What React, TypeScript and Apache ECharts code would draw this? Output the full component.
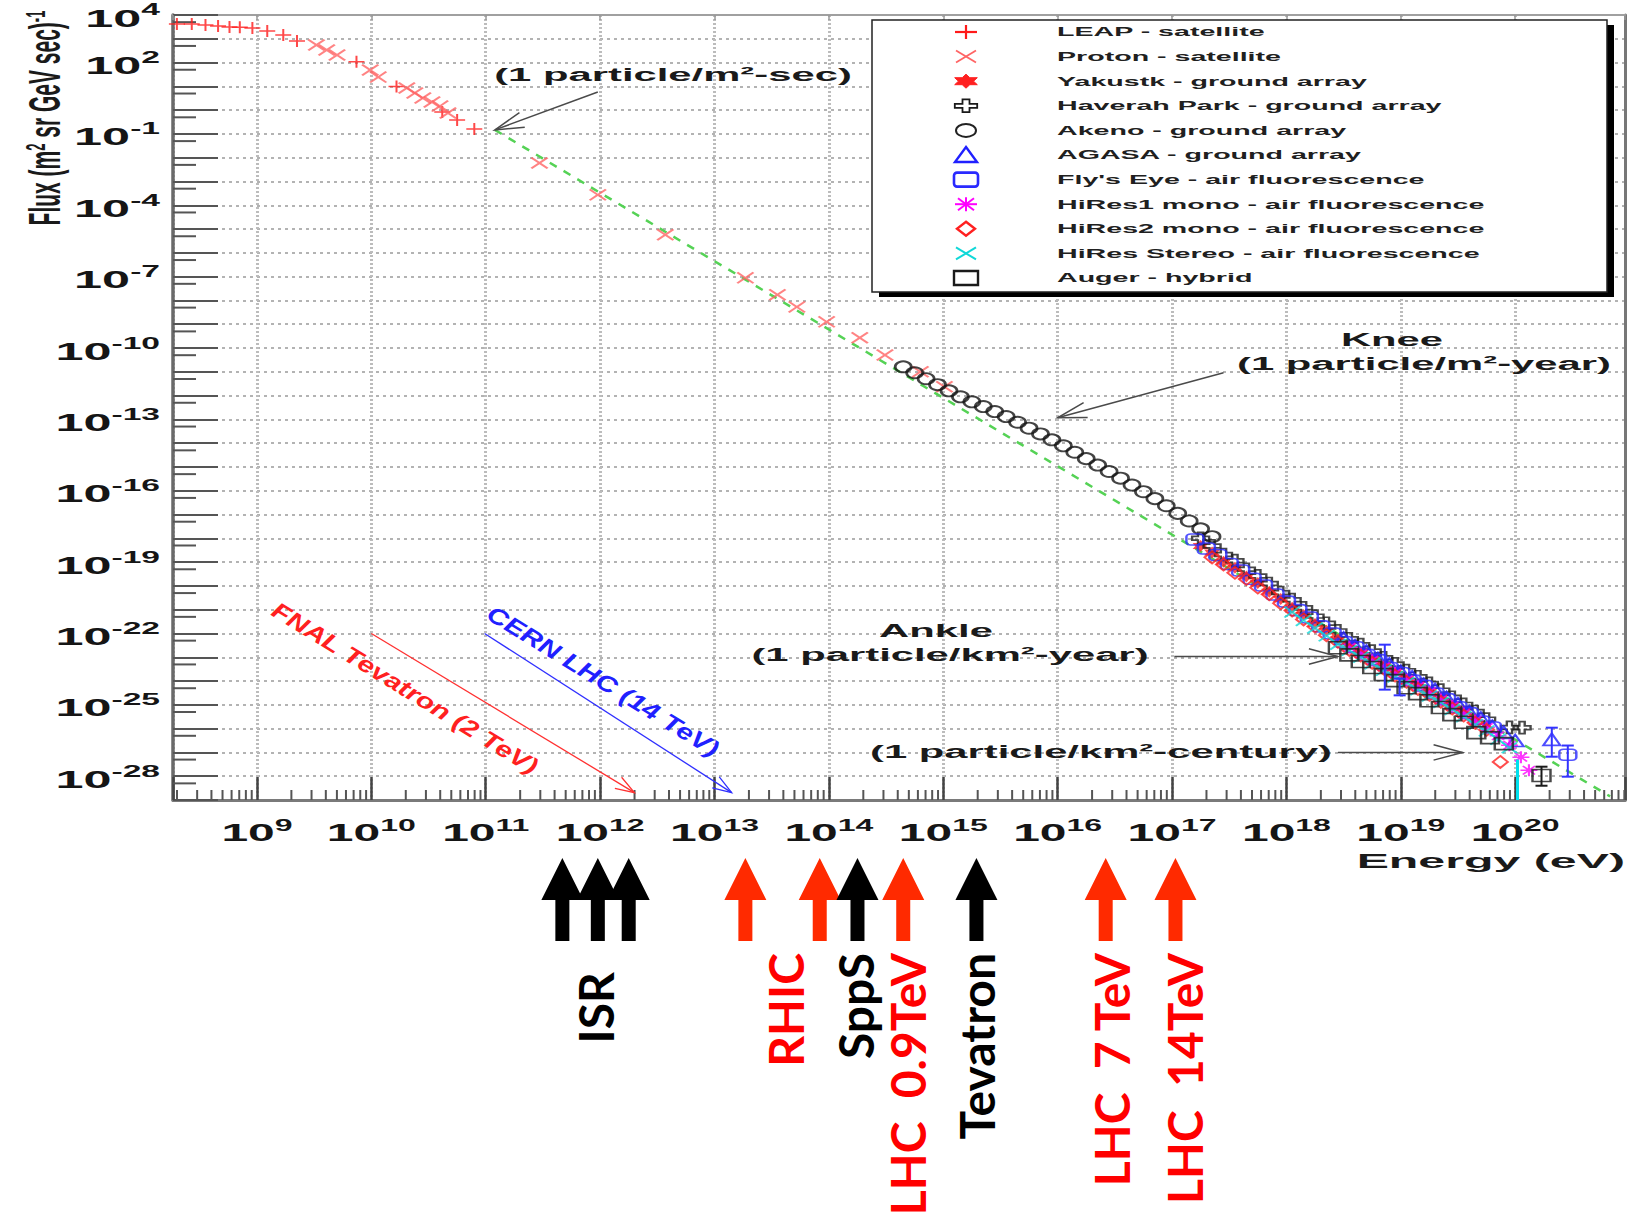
import React, { useEffect, useRef } from 'react';
import * as echarts from 'echarts';

// ---------------- DATA (log10 of energy in eV , log10 of flux) ----------------
const leapSatellite: number[][] = [
  [8.30, 3.62], [8.43, 3.62], [8.55, 3.58], [8.66, 3.54], [8.76, 3.50], [8.85, 3.49], [8.96, 3.45],
  [9.09, 3.33], [9.23, 3.16], [9.35, 2.91], [9.87, 2.03], [10.22, 0.99], [10.62, -0.08], [10.75, -0.41], [10.90, -0.79],
];
const protonSatellite: number[][] = [
  [9.52, 2.74], [9.61, 2.53], [9.70, 2.32], [9.99, 1.69], [10.06, 1.39], [10.31, 0.93], [10.38, 0.72],
  [10.45, 0.51], [10.53, 0.34], [10.60, 0.17], [10.67, -0.12], [11.47, -2.22], [11.98, -3.56], [12.57, -5.24],
  [13.27, -7.05], [13.55, -7.76], [13.72, -8.27], [13.98, -8.90], [14.27, -9.57], [14.49, -10.29], [14.80, -11.0], [15.01, -11.63],
];
const yakutsk: number[][] = [
  [17.25, -18.32], [17.35, -18.60], [17.45, -18.98], [17.55, -19.24], [17.65, -19.60], [17.75, -19.88], [17.85, -20.25],
  [17.95, -20.55], [18.05, -20.92], [18.15, -21.22], [18.25, -21.60], [18.35, -21.88], [18.45, -22.25], [18.55, -22.50],
  [18.65, -22.82], [18.75, -23.05], [18.85, -23.36], [18.95, -23.60], [19.05, -23.90], [19.15, -24.13], [19.25, -24.45],
  [19.35, -24.68], [19.45, -25.00], [19.55, -25.25], [19.65, -25.62],
];
const haverahPark: number[][] = [
  [17.25, -18.00], [17.35, -18.32], [17.45, -18.68], [17.55, -18.94], [17.65, -19.30], [17.75, -19.58], [17.85, -19.90],
  [17.95, -20.28], [18.05, -20.58], [18.15, -20.92], [18.25, -21.27], [18.35, -21.57], [18.45, -21.89], [18.55, -22.22],
  [18.65, -22.47], [18.75, -22.74], [18.85, -23.02], [18.95, -23.28], [19.05, -23.56], [19.15, -23.82], [19.25, -24.10],
  [19.35, -24.38], [19.45, -24.68], [19.55, -24.98], [19.65, -25.28], [19.75, -25.60], [19.95, -25.95], [20.06, -25.96],
];
const akeno: number[][] = [
  [14.65, -10.79], [14.75, -11.04], [14.85, -11.29], [14.95, -11.54], [15.05, -11.80], [15.15, -12.05], [15.25, -12.26],
  [15.35, -12.46], [15.45, -12.67], [15.55, -12.88], [15.65, -13.12], [15.75, -13.37], [15.85, -13.61], [15.95, -13.86],
  [16.05, -14.11], [16.15, -14.38], [16.25, -14.65], [16.35, -14.92], [16.45, -15.19], [16.55, -15.47], [16.65, -15.76],
  [16.75, -16.04], [16.85, -16.33], [16.95, -16.63], [17.05, -16.95], [17.15, -17.27], [17.25, -17.60], [17.35, -17.93],
];
const agasa: number[][] = [
  [18.5, -22.20], [18.6, -22.52], [18.7, -22.74], [18.8, -23.06], [18.9, -23.29], [19.0, -23.60], [19.1, -23.82],
  [19.2, -24.14], [19.3, -24.36], [19.4, -24.70], [19.5, -24.96], [19.6, -25.30], [19.7, -25.56], [19.8, -25.90],
  [19.9, -26.16], [20.0, -26.50], [20.32, -26.45],
];
const flysEye: number[][] = [
  [17.2, -18.05], [17.3, -18.43], [17.4, -18.70], [17.5, -19.08], [17.6, -19.35], [17.7, -19.70], [17.8, -19.98],
  [17.9, -20.36], [18.0, -20.66], [18.1, -21.02], [18.2, -21.33], [18.3, -21.70], [18.4, -22.00], [18.5, -22.36],
  [18.6, -22.58], [18.7, -22.90], [18.8, -23.12], [18.9, -23.45], [19.0, -23.66], [19.1, -23.98], [19.2, -24.20],
  [19.3, -24.52], [19.4, -24.76], [19.5, -25.10], [19.6, -25.35], [19.7, -25.70], [19.8, -25.95], [20.46, -27.10],
];
const hiRes1Mono: number[][] = [
  [18.55, -22.58], [18.65, -22.85], [18.75, -23.12], [18.85, -23.40], [18.95, -23.66], [19.05, -23.95], [19.15, -24.22],
  [19.25, -24.45], [19.35, -24.78], [19.45, -25.05], [19.55, -25.36], [19.65, -25.66], [19.75, -25.95], [19.85, -26.30],
  [19.95, -26.70], [20.05, -27.20], [20.12, -27.75],
];
const hiRes2Mono: number[][] = [
  [17.35, -18.80], [17.45, -19.10], [17.55, -19.45], [17.65, -19.71], [17.75, -20.07], [17.85, -20.35], [17.95, -20.73],
  [18.05, -21.03], [18.15, -21.41], [18.25, -21.71], [18.35, -22.07], [18.45, -22.35], [18.55, -22.69], [18.65, -22.93],
  [18.75, -23.23], [18.85, -23.47], [18.95, -23.77], [19.05, -24.03], [19.15, -24.33], [19.25, -24.57], [19.35, -24.87],
  [19.45, -25.15], [19.55, -25.45], [19.65, -25.75], [19.75, -26.05], [19.87, -27.40],
];
const hiResStereo: number[][] = [
  [18.05, -21.10], [18.15, -21.45], [18.25, -21.77], [18.35, -22.10], [18.45, -22.45], [18.55, -22.71], [18.65, -23.00],
  [18.75, -23.27], [18.85, -23.55], [18.95, -23.83], [19.05, -24.07], [19.15, -24.37], [19.25, -24.63], [19.35, -24.90],
  [19.45, -25.20], [19.55, -25.50], [19.65, -25.83], [19.75, -26.10], [19.85, -26.45], [19.95, -26.80],
];
const auger: number[][] = [
  [18.45, -22.60], [18.55, -22.90], [18.65, -23.18], [18.75, -23.43], [18.85, -23.73], [18.95, -23.98], [19.05, -24.28],
  [19.15, -24.53], [19.25, -24.83], [19.35, -25.11], [19.45, -25.41], [19.55, -25.73], [19.66, -26.17], [19.78, -26.38],
  [19.90, -26.63], [20.23, -27.97],
];
// error bars: [logE, low, high, colour index]
const errorBars: number[][] = [
  [20.32, -27.18, -25.96, 0], [20.46, -28.02, -26.71, 0], [20.23, -28.40, -27.60, 1],
  [18.86, -24.36, -22.47, 0], [18.99, -24.60, -23.90, 0], [20.02, -29.0, -27.30, 2],
];
// E^-2.9 guide line
const powerLaw: number[][] = [[11.08, -0.83], [20.83, -28.85]];
// annotation arrows: [x1, y1, x2(tip), y2(tip), style index]
const annotationArrows: number[][] = [
  [11.98, 0.76, 11.08, -0.83, 0],
  [17.45, -11.04, 16.00, -12.93, 0],
  [17.02, -22.97, 18.45, -22.97, 0],
  [18.45, -27.0, 19.54, -27.0, 0],
  [10.0, -22.0, 12.30, -28.69, 1],
  [10.99, -22.0, 13.15, -28.69, 2],
];
const xTickExponents = [9, 10, 11, 12, 13, 14, 15, 16, 17, 18, 19, 20];
const yTickExponents = [4, 2, -1, -4, -7, -10, -13, -16, -19, -22, -25, -28];

// accelerators (equivalent fixed-target energy, log10 eV)
const accelArrowLogE = [11.67, 11.98, 12.25, 13.27, 13.92, 14.25, 14.65, 15.29, 16.42, 17.03];
const accelArrowRed = [0, 0, 0, 1, 1, 0, 1, 0, 1, 1];
const accelNames = ['ISR', 'RHIC', 'SppS', 'LHC  0.9TeV', 'Tevatron', 'LHC  7 TeV', 'LHC  14TeV'];
const accelLabelLogE = [11.96, 13.62, 14.23, 14.69, 15.29, 16.47, 17.11];
const accelLabelRed = [0, 1, 0, 1, 0, 1, 1];

const seriesNames = [
  'LEAP - satellite', 'Proton - satellite', 'Yakustk - ground array', 'Haverah Park - ground array',
  'Akeno - ground array', 'AGASA - ground array', "Fly's Eye - air fluorescence",
  'HiRes1 mono - air fluorescence', 'HiRes2 mono - air fluorescence', 'HiRes Stereo - air fluorescence', 'Auger - hybrid',
];
const seriesData = [leapSatellite, protonSatellite, yakutsk, haverahPark, akeno, agasa, flysEye, hiRes1Mono, hiRes2Mono, hiResStereo, auger];

// ---------------- STYLE ----------------
const X_MIN = 8.266, X_MAX = 20.96, Y_MIN = -29, Y_MAX = 4;
const SANS = '"Liberation Sans", Arial, Helvetica, sans-serif';
const ST = 2.2;

const PLUS = 'path://M-1,-8L1,-8L1,-1L8,-1L8,1L1,1L1,8L-1,8L-1,1L-8,1L-8,-1L-1,-1Z';
const CROSS = 'path://M-7,-5.6L-5.6,-7L0,-1.4L5.6,-7L7,-5.6L1.4,0L7,5.6L5.6,7L0,1.4L-5.6,7L-7,5.6L-1.4,0Z';
const HEX = 'path://M0,-10L2.9,-5L8.7,-5L5.8,0L8.7,5L2.9,5L0,10L-2.9,5L-8.7,5L-5.8,0L-8.7,-5L-2.9,-5Z';
const OPENCROSS = 'path://M-2.5,-8L2.5,-8L2.5,-2.5L8,-2.5L8,2.5L2.5,2.5L2.5,8L-2.5,8L-2.5,2.5L-8,2.5L-8,-2.5L-2.5,-2.5Z';
const ASTER = 'path://M-1,-8L1,-8L1,8L-1,8Z M-8,-1L8,-1L8,1L-8,1Z M-6.4,-5L-5,-6.4L6.4,5L5,6.4Z M5,-6.4L6.4,-5L-5,6.4L-6.4,5Z';

const scatterStyles: any[] = [
  { symbol: PLUS, size: [16, 12], fill: '#ff1a1a' },
  { symbol: CROSS, size: [18, 12], fill: '#ff6464' },
  { symbol: HEX, size: [16, 12], fill: '#ff2020' },
  { symbol: OPENCROSS, size: [17, 12], stroke: '#1a1a1a' },
  { symbol: 'circle', size: [16, 11], stroke: '#151515', bw: 2.3 },
  { symbol: 'triangle', size: [17, 12], stroke: '#2020ff' },
  { symbol: 'roundRect', size: [17, 11], stroke: '#2a2aff' },
  { symbol: ASTER, size: [17, 12], fill: '#ff00ff' },
  { symbol: 'diamond', size: [15, 12], stroke: '#ff2020' },
  { symbol: CROSS, size: [17, 12], fill: '#10d8d8' },
  { symbol: 'rect', size: [18, 12], stroke: '#1a1a1a' },
];
const errColors = ['#3333ff', '#1a1a1a', '#00e0ee'];
const arrowStyles = [
  { stroke: '#4a4a4a', w: 1.5, head: 30, ang: 0.26 },
  { stroke: '#ff3030', w: 1.3, head: 20, ang: 0.33 },
  { stroke: '#3030ff', w: 1.3, head: 20, ang: 0.33 },
];

const tickRich = {
  b: { fontSize: 24, fontFamily: SANS, fontWeight: 'bold', fill: '#151515', lineHeight: 32 },
  s: { fontSize: 16, fontFamily: SANS, fontWeight: 'bold', fill: '#151515', lineHeight: 16, verticalAlign: 'top' },
};

function sText(text: string, x: number, y: number, size = 19, align = 'center', sx = ST) {
  return {
    type: 'text', x, y, scaleX: sx, z: 60, silent: true,
    style: { text, fill: '#1a1a1a', fontSize: size, fontFamily: SANS, fontWeight: 'bold', align, verticalAlign: 'middle' },
  };
}

function ln(x1: number, y1: number, x2: number, y2: number, stroke: string, w = 1.8) {
  return { type: 'line', z: 102, shape: { x1, y1, x2, y2 }, style: { stroke, lineWidth: w } };
}
function poly(pts: number[][], stroke: string, w = 1.8, fill = 'none') {
  return { type: 'polygon', z: 102, shape: { points: pts }, style: { stroke, lineWidth: w, fill } };
}

function legendIcon(i: number, cx: number, cy: number): any[] {
  switch (i) {
    case 0: return [ln(cx - 11, cy, cx + 11, cy, '#ff1a1a', 2.2), ln(cx, cy - 7, cx, cy + 7, '#ff1a1a', 2.2)];
    case 1: return [ln(cx - 10, cy - 6, cx + 10, cy + 6, '#ff6464', 1.8), ln(cx - 10, cy + 6, cx + 10, cy - 6, '#ff6464', 1.8)];
    case 2: {
      const h = [[0, -10], [2.9, -5], [8.7, -5], [5.8, 0], [8.7, 5], [2.9, 5], [0, 10], [-2.9, 5], [-8.7, 5], [-5.8, 0], [-8.7, -5], [-2.9, -5]];
      return [poly(h.map((p) => [cx + p[0] * 1.3, cy + p[1] * 0.7]), '#ff2020', 1, '#ff2020')];
    }
    case 3: {
      const c = [[-2.5, -8], [2.5, -8], [2.5, -2.5], [8, -2.5], [8, 2.5], [2.5, 2.5], [2.5, 8], [-2.5, 8], [-2.5, 2.5], [-8, 2.5], [-8, -2.5], [-2.5, -2.5]];
      return [poly(c.map((p) => [cx + p[0] * 1.4, cy + p[1] * 0.8]), '#1a1a1a', 1.8)];
    }
    case 4: return [{ type: 'ellipse', z: 102, shape: { cx, cy, rx: 10, ry: 6.5 }, style: { stroke: '#222', lineWidth: 2, fill: 'none' } }];
    case 5: return [poly([[cx, cy - 8], [cx + 11, cy + 7], [cx - 11, cy + 7]], '#2020ff', 2.4)];
    case 6: return [{ type: 'rect', z: 102, shape: { x: cx - 12, y: cy - 7, width: 24, height: 14, r: 3 }, style: { stroke: '#2a2aff', lineWidth: 2.6, fill: 'none' } }];
    case 7: return [
      ln(cx - 11, cy, cx + 11, cy, '#ff00ff', 2), ln(cx, cy - 7, cx, cy + 7, '#ff00ff', 2),
      ln(cx - 8, cy - 6, cx + 8, cy + 6, '#ff00ff', 2), ln(cx - 8, cy + 6, cx + 8, cy - 6, '#ff00ff', 2),
    ];
    case 8: return [poly([[cx, cy - 7], [cx + 9, cy], [cx, cy + 7], [cx - 9, cy]], '#ff2020', 2.4)];
    case 9: return [ln(cx - 10, cy - 6, cx + 10, cy + 6, '#10d8d8', 2), ln(cx - 10, cy + 6, cx + 10, cy - 6, '#10d8d8', 2)];
    default: return [{ type: 'rect', z: 102, shape: { x: cx - 12, y: cy - 7, width: 24, height: 14 }, style: { stroke: '#1a1a1a', lineWidth: 2.4, fill: 'none' } }];
  }
}

function buildOption(): any {
  // minor tick positions (axis decoration): [axis, value]
  const minorTicks: number[][] = [];
  for (let n = 8; n <= 20; n++) {
    for (let k = 2; k <= 9; k++) {
      const v = n + Math.log10(k);
      if (v > X_MIN && v < X_MAX) minorTicks.push([0, v]);
    }
  }
  for (let n = Y_MIN; n < Y_MAX; n++) minorTicks.push([1, n + Math.log10(5)]);

  const scatterSeries = seriesData.map((d, i) => {
    const s = scatterStyles[i];
    return {
      type: 'scatter', name: seriesNames[i], data: d, symbol: s.symbol, symbolSize: s.size,
      silent: true, z: 3 + i,
      itemStyle: s.fill ? { color: s.fill } : { color: 'rgba(0,0,0,0)', borderColor: s.stroke, borderWidth: s.bw || 2 },
    };
  });

  const legendX = 872, legendY = 20, legendW = 735, legendH = 272;
  const legendEls: any[] = [
    { type: 'rect', z: 100, shape: { x: legendX + 7, y: legendY + 5, width: legendW, height: legendH }, style: { fill: '#000' } },
    { type: 'rect', z: 101, shape: { x: legendX, y: legendY, width: legendW, height: legendH }, style: { fill: '#fff', stroke: '#222', lineWidth: 1.5 } },
  ];
  seriesNames.forEach((name, i) => {
    const cy = 32 + 24.6 * i;
    legendEls.push(...legendIcon(i, 966, cy));
    legendEls.push({
      type: 'text', x: 1057, y: cy, scaleX: ST, z: 103, silent: true,
      style: { text: name, fill: '#202020', fontSize: 13, fontFamily: SANS, fontWeight: 'bold', align: 'left', verticalAlign: 'middle' },
    });
  });

  const annotationTexts = [
    sText('(1 particle/m²-sec)', 673, 75),
    sText('Knee', 1392, 340),
    sText('(1 particle/m²-year)', 1424, 364),
    sText('Ankle', 936, 631),
    sText('(1 particle/km²-year)', 950, 655),
    sText('(1 particle/km²-century)', 1101, 752),
    sText('Energy (eV)', 1625, 861, 21, 'right', 2.3),
    {
      type: 'text', x: 405, y: 688, rotation: -0.551, scaleX: 1.25, z: 60, silent: true,
      style: { text: 'FNAL Tevatron (2 TeV)', fill: '#ff2020', fontSize: 23, fontFamily: SANS, fontWeight: 'bold', fontStyle: 'italic', align: 'center', verticalAlign: 'middle' },
    },
    {
      type: 'text', x: 603, y: 681, rotation: -0.551, scaleX: 1.25, z: 60, silent: true,
      style: { text: 'CERN LHC (14 TeV)', fill: '#2020ff', fontSize: 23, fontFamily: SANS, fontWeight: 'bold', fontStyle: 'italic', align: 'center', verticalAlign: 'middle' },
    },
    {
      type: 'text', x: 44, y: 118, rotation: Math.PI / 2, scaleY: 2.15, z: 60, silent: true,
      style: {
        text: 'Flux (m{s|2} sr GeV sec){s|-1}', fill: '#1a1a1a', fontSize: 21, fontFamily: SANS, fontWeight: 'bold',
        align: 'center', verticalAlign: 'middle',
        rich: { s: { fontSize: 13, fontFamily: SANS, fontWeight: 'bold', fill: '#1a1a1a', verticalAlign: 'top', lineHeight: 13 } },
      },
    },
  ];

  return {
    animation: false,
    backgroundColor: '#ffffff',
    grid: { left: 173, top: 15, width: 1452, height: 785, containLabel: false, outerBoundsMode: 'none' },
    xAxis: [
      {
        type: 'value', min: X_MIN, max: X_MAX, splitNumber: 12, minInterval: 1, maxInterval: 1, position: 'bottom',
        axisLine: { show: true, onZero: false, lineStyle: { color: '#7a7a7a', width: 3 } },
        axisTick: { show: true, inside: true, length: 23, lineStyle: { color: '#444', width: 2.5 } },
        axisLabel: { show: false },
        splitLine: { show: true, lineStyle: { color: '#bcbcbc', width: 3, type: [2, 2] } },
      },
      {
        type: 'value', min: X_MIN, max: X_MAX, splitNumber: 12, minInterval: 1, maxInterval: 1, position: 'top',
        axisLine: { show: true, onZero: false, lineStyle: { color: '#a0a0a0', width: 2 } },
        axisTick: { show: true, inside: true, length: 5, lineStyle: { color: '#999', width: 1.5 } },
        axisLabel: { show: false }, splitLine: { show: false },
      },
    ],
    yAxis: [
      {
        type: 'value', min: Y_MIN, max: Y_MAX, interval: 1, position: 'left',
        axisLine: { show: true, onZero: false, lineStyle: { color: '#6a6a6a', width: 3.5 } },
        axisTick: { show: true, inside: true, length: 45, lineStyle: { color: '#555', width: 2 } },
        axisLabel: { show: false },
        splitLine: { show: true, lineStyle: { color: '#9a9a9a', width: 1.5, type: [3, 4] } },
      },
      {
        type: 'value', min: Y_MIN, max: Y_MAX, interval: 1, position: 'right',
        axisLine: { show: true, onZero: false, lineStyle: { color: '#777', width: 3 } },
        axisTick: { show: false }, axisLabel: { show: false }, splitLine: { show: false },
      },
    ],
    graphic: { elements: [...legendEls, ...annotationTexts] },
    series: [
      {
        type: 'line', name: 'power law', data: powerLaw, symbol: 'none', silent: true, z: 2,
        lineStyle: { color: '#55d255', width: 2.5, type: [8, 8] },
      },
      ...scatterSeries,
      {
        type: 'custom', name: 'error bars', data: errorBars, silent: true, clip: false, z: 20,
        renderItem: (params: any, api: any) => {
          const x = api.value(0), lo = api.value(1), hi = api.value(2), c = errColors[api.value(3)];
          const a = api.coord([x, lo]), b = api.coord([x, hi]);
          const cap = api.value(3) === 2 ? 0 : 6;
          const w = api.value(3) === 2 ? 3 : 2;
          return {
            type: 'group', children: [
              { type: 'line', shape: { x1: a[0], y1: a[1], x2: b[0], y2: b[1] }, style: { stroke: c, lineWidth: w } },
              { type: 'line', shape: { x1: a[0] - cap, y1: a[1], x2: a[0] + cap, y2: a[1] }, style: { stroke: c, lineWidth: w } },
              { type: 'line', shape: { x1: b[0] - cap, y1: b[1], x2: b[0] + cap, y2: b[1] }, style: { stroke: c, lineWidth: w } },
            ],
          };
        },
      },
      {
        type: 'custom', name: 'annotation arrows', data: annotationArrows, silent: true, clip: false, z: 25,
        renderItem: (params: any, api: any) => {
          const st = arrowStyles[api.value(4)];
          const p1 = api.coord([api.value(0), api.value(1)]);
          const p2 = api.coord([api.value(2), api.value(3)]);
          const ang = Math.atan2(p2[1] - p1[1], p2[0] - p1[0]);
          const h1 = [p2[0] - st.head * Math.cos(ang - st.ang), p2[1] - st.head * Math.sin(ang - st.ang)];
          const h2 = [p2[0] - st.head * Math.cos(ang + st.ang), p2[1] - st.head * Math.sin(ang + st.ang)];
          return {
            type: 'group', children: [
              { type: 'line', shape: { x1: p1[0], y1: p1[1], x2: p2[0], y2: p2[1] }, style: { stroke: st.stroke, lineWidth: st.w } },
              { type: 'polyline', shape: { points: [h1, p2, h2] }, style: { stroke: st.stroke, lineWidth: st.w, fill: null } },
            ],
          };
        },
      },
      {
        type: 'custom', name: 'minor ticks', data: minorTicks, silent: true, clip: false, z: 1,
        renderItem: (params: any, api: any) => {
          const axis = api.value(0), v = api.value(1);
          if (axis === 0) {
            const p = api.coord([v, Y_MIN]);
            return { type: 'line', shape: { x1: p[0], y1: p[1], x2: p[0], y2: p[1] - 10 }, style: { stroke: '#555', lineWidth: 2 } };
          }
          const p = api.coord([X_MIN, v]);
          return { type: 'line', shape: { x1: p[0], y1: p[1], x2: p[0] + 23, y2: p[1] }, style: { stroke: '#555', lineWidth: 2 } };
        },
      },
      {
        type: 'custom', name: 'x tick labels', data: xTickExponents.map((v) => [v]), silent: true, clip: false, z: 30,
        renderItem: (params: any, api: any) => {
          const v = api.value(0);
          const p = api.coord([v, Y_MIN]);
          return {
            type: 'text', x: p[0], y: p[1] + 33, scaleX: 2.0,
            style: { text: `{b|10}{s|${v}}`, rich: tickRich, align: 'center', verticalAlign: 'middle' },
          };
        },
      },
      {
        type: 'custom', name: 'y tick labels', data: yTickExponents.map((v) => [X_MIN, v]), silent: true, clip: false, z: 30,
        renderItem: (params: any, api: any) => {
          const v = api.value(1);
          const p = api.coord([X_MIN, v]);
          return {
            type: 'text', x: p[0] - 13, y: p[1] + 3, scaleX: 2.1,
            style: { text: `{b|10}{s|${v}}`, rich: tickRich, align: 'right', verticalAlign: 'middle' },
          };
        },
      },
      {
        type: 'custom', name: 'accelerator arrows', data: accelArrowLogE.map((e, i) => [e, accelArrowRed[i]]), silent: true, clip: false, z: 30,
        renderItem: (params: any, api: any) => {
          const x = api.coord([api.value(0), Y_MIN])[0];
          const top = 858, neck = 900, bottom = 941;
          const fill = api.value(1) ? '#ff2a00' : '#000000';
          return {
            type: 'polygon',
            shape: { points: [[x, top], [x + 21, neck], [x + 7, neck], [x + 7, bottom], [x - 7, bottom], [x - 7, neck], [x - 21, neck]] },
            style: { fill },
          };
        },
      },
      {
        type: 'custom', name: 'accelerator labels', data: accelLabelLogE.map((e, i) => [e, i]), silent: true, clip: false, z: 30,
        renderItem: (params: any, api: any) => {
          const i = api.value(1);
          const x = api.coord([api.value(0), Y_MIN])[0];
          return {
            type: 'text', x, y: i === 0 ? 972 : 953, rotation: Math.PI / 2,
            style: {
              text: accelNames[i], fill: accelLabelRed[i] ? '#ff0000' : '#000000', fontSize: 48, fontFamily: 'Lato, "Open Sans", sans-serif',
              fontWeight: 'bold', align: 'right', verticalAlign: 'middle',
            },
          };
        },
      },
    ],
  };
}

export default function App() {
  const ref = useRef<HTMLDivElement>(null);
  useEffect(() => {
    const chart = echarts.init(ref.current as HTMLDivElement, null, { renderer: 'svg' });
    chart.setOption(buildOption());
    return () => chart.dispose();
  }, []);
  return (
    <div
      ref={ref}
      style={{ position: 'absolute', left: 0, top: 0, width: 1633, height: 1218, background: '#ffffff' }}
    />
  );
}
